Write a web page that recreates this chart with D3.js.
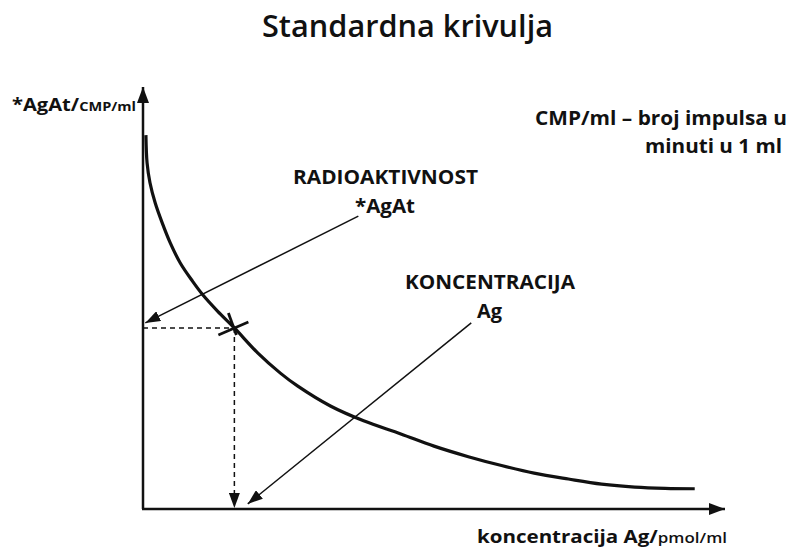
<!DOCTYPE html>
<html>
<head>
<meta charset="utf-8">
<script src="https://cdn.jsdelivr.net/npm/d3@7"></script>
<style>
  body { margin: 0; background: #fff; }
  text { font-family: "Open Sans", Lato, sans-serif; fill: #111; }
</style>
</head>
<body>
<div id="chart"></div>
<script>
// standard curve (arbitrary units, 0-100 on both axes)
var concentration = [0.5, 0.7, 1.2, 2.1, 3.3, 4.7, 6.4, 8.5, 10.3, 12.8, 15.7, 19.7, 23.6, 26.6, 32.2, 37.9, 44.3, 50.0, 55.9, 61.6, 67.2, 73.1, 78.8, 84.5, 89.7, 94.8];
var radioactivity = [88.6, 82.0, 77.3, 72.5, 67.8, 63.0, 58.3, 54.0, 50.7, 46.9, 42.9, 37.0, 32.2, 29.1, 24.4, 20.9, 17.8, 14.9, 12.4, 10.3, 8.5, 7.1, 5.9, 5.2, 4.9, 4.8];
// the read-off sample on the curve
var sampleX = 15.7;
var sampleY = 42.9;
// annotation arrows: [fromX, fromY, toX, toY]
var arrowRadio = [37.0, 69.4, 0.4, 44.1];
var arrowConc = [56.4, 44.1, 18.0, 1.2];

var width = 794, height = 556;
var x = d3.scaleLinear().domain([0, 100]).range([143, 725]);
var y = d3.scaleLinear().domain([0, 100]).range([509, 87]);

var svg = d3.select("#chart").append("svg")
    .attr("width", width)
    .attr("height", height);

var defs = svg.append("defs");
function marker(id, w, l) {
    defs.append("marker")
        .attr("id", id)
        .attr("markerUnits", "userSpaceOnUse")
        .attr("viewBox", `0 ${-w / 2} ${l} ${w}`)
        .attr("refX", l).attr("refY", 0)
        .attr("markerWidth", l).attr("markerHeight", w)
        .attr("orient", "auto")
        .append("path")
        .attr("d", `M0,${-w / 2}L${l},0L0,${w / 2}Z`)
        .attr("fill", "#111");
}
marker("axisHead", 12, 16);
marker("thinHead", 11, 15);

// axes
svg.append("line")
    .attr("x1", x(0)).attr("y1", y(0))
    .attr("x2", x(0)).attr("y2", y(100))
    .attr("stroke", "#111").attr("stroke-width", 2.5)
    .attr("marker-end", "url(#axisHead)");
svg.append("line")
    .attr("x1", x(0) - 1).attr("y1", y(0))
    .attr("x2", x(100)).attr("y2", y(0))
    .attr("stroke", "#111").attr("stroke-width", 2.5)
    .attr("marker-end", "url(#axisHead)");

// curve
var points = concentration.map(function (c, i) { return [c, radioactivity[i]]; });
var line = d3.line()
    .x(function (d) { return x(d[0]); })
    .y(function (d) { return y(d[1]); })
    .curve(d3.curveCatmullRom.alpha(0.5));
svg.append("path")
    .datum(points)
    .attr("d", line)
    .attr("fill", "none")
    .attr("stroke", "#111")
    .attr("stroke-width", 3.2);

// dashed read-off lines
svg.append("line")
    .attr("x1", x(0)).attr("y1", y(sampleY))
    .attr("x2", x(sampleX)).attr("y2", y(sampleY))
    .attr("stroke", "#111").attr("stroke-width", 1.5)
    .attr("stroke-dasharray", "5,4");
svg.append("line")
    .attr("x1", x(sampleX)).attr("y1", y(sampleY))
    .attr("x2", x(sampleX)).attr("y2", y(0) - 1)
    .attr("stroke", "#111").attr("stroke-width", 1.5)
    .attr("stroke-dasharray", "5,4")
    .attr("marker-end", "url(#thinHead)");

// cross on the curve
var cx = x(sampleX), cy = y(sampleY);
var cross = svg.append("g").attr("stroke", "#111").attr("stroke-width", 2.8);
cross.append("line")
    .attr("x1", cx - 16).attr("y1", cy + 7)
    .attr("x2", cx + 14).attr("y2", cy - 6);
cross.append("line")
    .attr("x1", cx - 6).attr("y1", cy - 15)
    .attr("x2", cx + 2).attr("y2", cy + 7);

// annotation arrows
[arrowRadio, arrowConc].forEach(function (a) {
    svg.append("line")
        .attr("x1", x(a[0])).attr("y1", y(a[1]))
        .attr("x2", x(a[2])).attr("y2", y(a[3]))
        .attr("stroke", "#111").attr("stroke-width", 1.5)
        .attr("marker-end", "url(#thinHead)");
});

// texts
function label(tx, ty, size, len, str) {
    return svg.append("text")
        .attr("x", tx).attr("y", ty)
        .attr("textLength", len)
        .attr("lengthAdjust", "spacingAndGlyphs")
        .style("font-weight", "bold")
        .style("font-size", size + "px")
        .text(str);
}

svg.append("text")
    .attr("x", 262).attr("y", 37)
    .attr("textLength", 291)
    .attr("lengthAdjust", "spacingAndGlyphs")
    .style("font-size", "30px")
    .style("font-weight", "600")
    .text("Standardna krivulja");

var yl = svg.append("text")
    .attr("x", 12).attr("y", 111)
    .attr("textLength", 124)
    .attr("lengthAdjust", "spacingAndGlyphs")
    .style("font-weight", "bold")
    .style("font-size", "18px");
yl.append("tspan").text("*AgAt/");
yl.append("tspan").style("font-size", "13px").text("CMP/ml");

var xl = svg.append("text")
    .attr("x", 477).attr("y", 543)
    .attr("textLength", 250)
    .attr("lengthAdjust", "spacingAndGlyphs")
    .style("font-weight", "bold")
    .style("font-size", "17px");
xl.append("tspan").text("koncentracija Ag/");
xl.append("tspan").style("font-size", "14px").style("font-weight", "600").text("pmol/ml");

label(535, 125, 19, 252, "CMP/ml – broj impulsa u");
label(645, 153, 19, 137, "minuti u 1 ml");
label(293, 184, 19, 185, "RADIOAKTIVNOST");
label(355, 213, 19, 60, "*AgAt");
label(405, 289, 19, 170, "KONCENTRACIJA");
label(477, 318, 19, 25, "Ag");
</script>
</body>
</html>
